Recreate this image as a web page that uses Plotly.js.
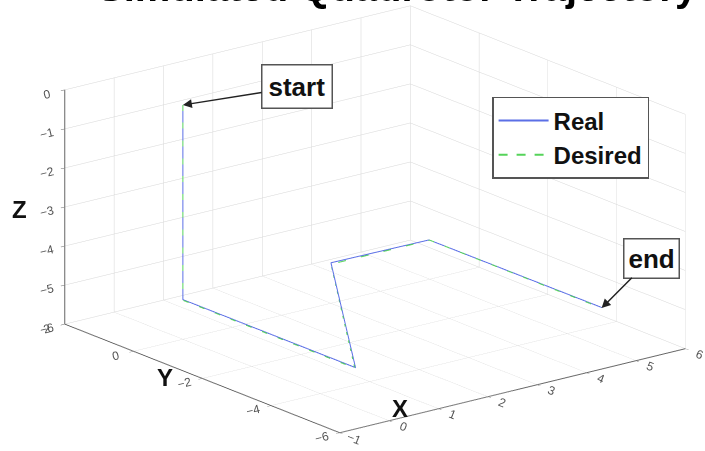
<!DOCTYPE html>
<html>
<head>
<meta charset="utf-8">
<script src="https://cdn.plot.ly/plotly-3.0.1.min.js"></script>
<style>html,body{margin:0;padding:0;background:#fff;}#chart{width:705px;height:451px;}</style>
</head>
<body>
<div id="chart"></div>
<script>
// Desired trajectory waypoints
var desiredX = [0, 0, 0, 3, 5, 5];
var desiredY = [0, 0, -5, 0, 0, -5];
var desiredZ = [0, -5, -5, -5, -5, -5];
// Real (measured) trajectory
var realX = [0, 0.02, 0.05, 3.02, 5.0, 5.02];
var realY = [0, 0.03, -4.95, 0.03, 0.02, -4.98];
var realZ = [-0.02, -5.0, -5.02, -4.98, -5.0, -5.0];

var titleText = 'Simulated Quadrotor Trajectory';
var axisTitles = ['X', 'Y', 'Z'];
var xTicks = [-1, 0, 1, 2, 3, 4, 5, 6];
var yTicks = [-6, -4, -2, 0, 2];
var zTicks = [-6, -5, -4, -3, -2, -1, 0];

var FONT = 'Liberation Sans, Arial, sans-serif';

var traces = [
  {type: 'scatter3d', mode: 'lines', name: 'Real',
   x: realX, y: realY, z: realZ,
   line: {color: '#5b6fe6', width: 2}},
  {type: 'scatter3d', mode: 'lines', name: 'Desired',
   x: desiredX, y: desiredY, z: desiredZ,
   line: {color: '#55d35a', width: 2, dash: 'dash'}}
];

function axis(rng, ticks) {
  return {
    title: {text: ''},
    range: rng, autorange: false,
    tickmode: 'array', tickvals: ticks,
    tickfont: {family: FONT, size: 12, color: '#555'},
    showgrid: true, gridcolor: '#d6d6d6', gridwidth: 1,
    showbackground: false, zeroline: false,
    showline: true, linecolor: '#666', linewidth: 2,
    ticks: 'outside', ticklen: 5, tickcolor: '#666',
    showspikes: false
  };
}

var eyeDir = [-0.587, -0.748, 0.310];
var eyeLen = 3.0;
var S = 1.948;
var ctr = [-0.0840, 0.0550, -0.0263];

function paperText(t, x, y, size) {
  return {text: t, xref: 'paper', yref: 'paper', x: x, y: y,
          xanchor: 'center', yanchor: 'middle', showarrow: false,
          font: {family: FONT, size: size, color: '#111', weight: 'bold'}};
}

var layout = {
  width: 705, height: 451,
  margin: {l: 0, r: 0, t: 0, b: 0},
  paper_bgcolor: '#fff',
  showlegend: true,
  legend: {
    x: 0.698, y: 0.785, xanchor: 'left', yanchor: 'top',
    bgcolor: '#fff', bordercolor: '#555', borderwidth: 1.5,
    itemwidth: 50,
    font: {family: FONT, size: 24, color: '#111', weight: 'bold'}
  },
  annotations: [
    {text: titleText, xref: 'paper', yref: 'paper',
     x: 0.993, y: 0.975, xanchor: 'right', yanchor: 'bottom',
     showarrow: false,
     font: {family: FONT, size: 40, color: '#000', weight: 'bold'}},
    paperText(axisTitles[0], 0.567, 0.095, 24),
    paperText(axisTitles[1], 0.234, 0.162, 24),
    paperText(axisTitles[2], 0.027, 0.535, 24)
  ],
  scene: {
    domain: {x: [0, 1], y: [0, 1]},
    aspectmode: 'manual',
    aspectratio: {x: 1 * S, y: 1.014 * S, z: 0.561 * S},
    camera: {
      eye: {x: ctr[0] + eyeDir[0] * eyeLen, y: ctr[1] + eyeDir[1] * eyeLen, z: ctr[2] + eyeDir[2] * eyeLen},
      up: {x: 0, y: 0, z: 1},
      center: {x: ctr[0], y: ctr[1], z: ctr[2]},
      projection: {type: 'orthographic'}
    },
    xaxis: axis([-1, 6], xTicks),
    yaxis: axis([-6, 2], yTicks),
    zaxis: axis([-6, 0], zTicks),
    annotations: [
      {x: desiredX[0], y: desiredY[0], z: desiredZ[0], text: 'start',
       showarrow: true, arrowhead: 2, arrowsize: 1.2, arrowwidth: 1.5, arrowcolor: '#222',
       ax: 114, ay: -18, bgcolor: '#fff', bordercolor: '#555', borderwidth: 1.5, borderpad: 6,
       font: {family: FONT, size: 26, color: '#111', weight: 'bold'}},
      {x: desiredX[5], y: desiredY[5], z: desiredZ[5], text: 'end',
       showarrow: true, arrowhead: 2, arrowsize: 1.2, arrowwidth: 1.5, arrowcolor: '#222',
       ax: 50, ay: -50, bgcolor: '#fff', bordercolor: '#555', borderwidth: 1.5, borderpad: 4,
       font: {family: FONT, size: 26, color: '#111', weight: 'bold'}}
    ]
  }
};

Plotly.newPlot('chart', traces, layout, {displayModeBar: false});
</script>
</body>
</html>
